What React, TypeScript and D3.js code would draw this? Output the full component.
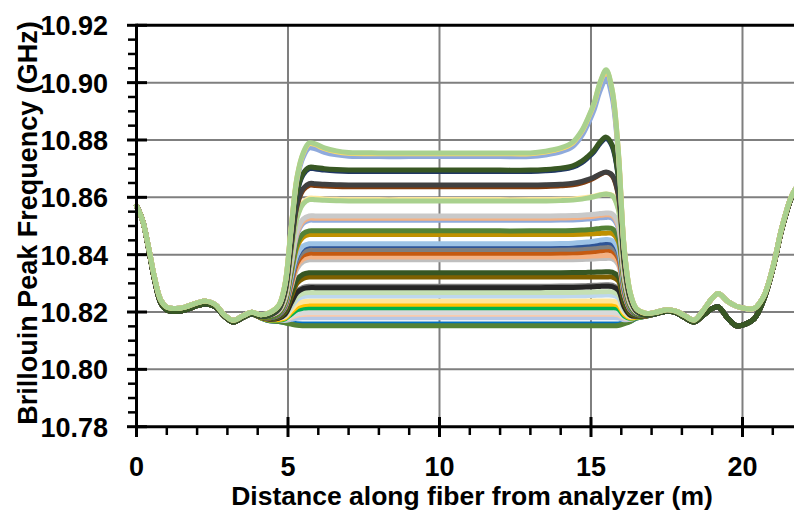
import React from "react";
import * as d3 from "d3";

// Distance along fiber (m) at which profiles were read
const distances = [0, 0.2, 0.4, 0.6, 0.8, 1.0, 1.3, 1.6, 2.0, 2.3, 2.6, 2.9, 3.2, 3.5, 3.8, 4.1, 4.4, 4.7, 4.9, 5.1, 5.3, 5.5, 5.7, 5.9, 6.2, 6.6, 7.0, 8.0, 9.0, 10.0, 11.0, 12.0, 13.0, 13.5, 14.0, 14.4, 14.7, 14.9, 15.1, 15.3, 15.5, 15.7, 15.9, 16.1, 16.3, 16.5, 16.8, 17.1, 17.5, 17.8, 18.1, 18.4, 18.7, 19.0, 19.2, 19.5, 19.8, 20.1, 20.4, 20.7, 21.0, 21.3, 21.6, 21.75];

// Reference fiber (outside test section) – darker bundle
const baselineDark = [10.857, 10.852, 10.842, 10.831, 10.8232, 10.8207, 10.8202, 10.8207, 10.8222, 10.8228, 10.8218, 10.8185, 10.8165, 10.818, 10.8193, 10.818, 10.817, 10.8168, 10.8165, 10.8165, 10.8165, 10.8165, 10.8165, 10.8165, 10.8165, 10.8165, 10.8165, 10.8165, 10.8165, 10.8165, 10.8165, 10.8165, 10.8165, 10.8165, 10.8165, 10.8165, 10.8165, 10.8165, 10.8165, 10.8165, 10.8165, 10.8165, 10.8165, 10.8165, 10.817, 10.818, 10.8185, 10.8193, 10.8203, 10.8198, 10.818, 10.8165, 10.8188, 10.8212, 10.8218, 10.818, 10.8152, 10.8158, 10.8178, 10.8243, 10.835, 10.849, 10.8595, 10.8625];
// Reference fiber – lighter bundle
const baselineLight = [10.857, 10.852, 10.8425, 10.8318, 10.8242, 10.8217, 10.8212, 10.8217, 10.8232, 10.8238, 10.8226, 10.819, 10.8171, 10.8186, 10.8199, 10.8185, 10.8175, 10.8172, 10.8168, 10.8168, 10.8168, 10.8168, 10.8168, 10.8168, 10.8168, 10.8168, 10.8168, 10.8168, 10.8168, 10.8168, 10.8168, 10.8168, 10.8168, 10.8168, 10.8168, 10.8168, 10.8168, 10.8168, 10.8168, 10.8168, 10.8168, 10.8168, 10.8168, 10.8168, 10.8173, 10.8183, 10.819, 10.8198, 10.8208, 10.8203, 10.8187, 10.8172, 10.8205, 10.8248, 10.8265, 10.8238, 10.822, 10.8212, 10.8213, 10.8255, 10.8355, 10.8495, 10.86, 10.863];
// Fraction of the section's plateau shift reached at each distance
const sectionWeight = [0, 0, 0, 0, 0, 0, 0, 0, 0, 0, 0, 0, 0, 0, 0, 0.01, 0.04, 0.09, 0.22, 0.55, 0.86, 0.97, 1, 1, 1, 1, 1, 1, 1, 1, 1, 1, 1, 1, 1, 1, 1, 1, 1, 1, 1, 1, 0.92, 0.43, 0.16, 0.05, 0.01, 0, 0, 0, 0, 0, 0, 0, 0, 0, 0, 0, 0, 0, 0, 0, 0, 0];
// Relative shape of the peak near 15.5 m
const peakShape = [0, 0, 0, 0, 0, 0, 0, 0, 0, 0, 0, 0, 0, 0, 0, 0, 0, 0, 0, 0, 0, 0, 0, 0, 0, 0, 0, 0, 0, 0, 0, 0, 0, 0.02, 0.06, 0.13, 0.27, 0.42, 0.6, 0.85, 1, 0.76, 0.2, 0, 0, 0, 0, 0, 0, 0, 0, 0, 0, 0, 0, 0, 0, 0, 0, 0, 0, 0, 0, 0];
// Relative shape of the overshoot at the section entrance
const overshootShape = [0, 0, 0, 0, 0, 0, 0, 0, 0, 0, 0, 0, 0, 0, 0, 0, 0, 0, 0, 0, 0, 0.5, 1, 0.9, 0.5, 0.2, 0.05, 0, 0, 0, 0, 0, 0, 0, 0, 0, 0, 0, 0, 0, 0, 0, 0, 0, 0, 0, 0, 0, 0, 0, 0, 0, 0, 0, 0, 0, 0, 0, 0, 0, 0, 0, 0, 0];

// Per-series values (GHz)
const seriesLevels = [10.8158, 10.8152, 10.818, 10.8192, 10.8198, 10.8215, 10.8227, 10.8238, 10.8256, 10.8268, 10.829, 10.8285, 10.8322, 10.8337, 10.8382, 10.8392, 10.8405, 10.8418, 10.8432, 10.8438, 10.847, 10.8483, 10.852, 10.8527, 10.8535, 10.8592, 10.8587, 10.8637, 10.8643, 10.869, 10.8695, 10.8748, 10.8742, 10.8752, 10.8755];
const seriesPeaks = [0, 0, 0, 0, 0, 0, 0, 0, 0.0003, 0.0003, 0.0005, 0.0005, 0, 0.0003, 0.0005, 0.0005, 0.001, 0.001, 0.001, 0.0015, 0.0005, 0.001, 0.001, 0.0012, 0.001, 0.002, 0.0025, 0.005, 0.0045, 0.0115, 0.0115, 0.028, 0.027, 0.029, 0.029];
const seriesOvershoot = [0, 0, 0, 0, 0, 0, 0, 0, 0, 0, 0, 0, 0, 0, 0, 0, 0, 0, 0, 0, 0, 0, 0, 0, 0, 0.0005, 0.0005, 0.0005, 0.0005, 0.001, 0.001, 0.0035, 0.003, 0.0035, 0.0035];
const seriesBundle = ["D", "D", "L", "L", "L", "D", "D", "L", "L", "L", "D", "D", "D", "D", "L", "L", "D", "D", "D", "L", "D", "D", "L", "L", "L", "L", "L", "D", "D", "D", "D", "L", "L", "L", "L"];
const seriesColors = ["#0070c0", "#548235", "#b4c7e7", "#f8cbad", "#d9d9d9", "#00b050", "#ffc000", "#ffe699", "#bdd7ee", "#c5e0b4", "#7f7f7f", "#262626", "#7f6000", "#375623", "#bfbfbf", "#f4b183", "#c55a11", "#7f7f7f", "#2f5597", "#9dc3e6", "#bf9000", "#548235", "#8faadc", "#f4b183", "#c9c9c9", "#ffe699", "#a9d18e", "#843c0c", "#404040", "#203864", "#385723", "#f4b183", "#8faadc", "#ffd966", "#a9d18e"];

const xTickValues = [0, 5, 10, 15, 20];
const yTickValues = [10.78, 10.8, 10.82, 10.84, 10.86, 10.88, 10.9, 10.92];
const xTitle = "Distance along fiber from analyzer (m)";
const yTitle = "Brillouin Peak Frequency (GHz)";

const W = 794;
const H = 510;
const FONT = "'Liberation Sans', Arial, sans-serif";

export default function App() {
  const x = d3.scaleLinear().domain([0, 21.7]).range([136.5, 794]);
  const y = d3.scaleLinear().domain([10.78, 10.92]).range([426.7, 25.3]);

  const series = seriesLevels.map((level, i) => {
    const base = seriesBundle[i] === "L" ? baselineLight : baselineDark;
    return distances.map((d, k) => ({
      d,
      v:
        base[k] +
        sectionWeight[k] * (level - base[k]) +
        peakShape[k] * seriesPeaks[i] +
        overshootShape[k] * seriesOvershoot[i],
    }));
  });

  const line = d3
    .line<{ d: number; v: number }>()
    .x((p) => x(p.d))
    .y((p) => y(p.v))
    .curve(d3.curveCatmullRom.alpha(0.5));

  const [x0, x1] = x.range();
  const [yb, yt] = y.range();
  const xMinor = d3.range(0, 22, 1).filter((v) => v % 5 !== 0);
  const yMinor = d3.range(0, 29).map((k) => 10.78 + k * 0.005).filter((_, k) => k % 4 !== 0);

  return (
    <svg width={W} height={H} style={{ position: "absolute", left: 0, top: 0, background: "#fff" }}>
      {/* gridlines */}
      {yTickValues.slice(1, -1).map((v) => (
        <line key={"gy" + v} x1={x0} x2={x1} y1={y(v)} y2={y(v)} stroke="#7f7f7f" strokeWidth={2} />
      ))}
      {xTickValues.slice(1).map((v) => (
        <line key={"gx" + v} x1={x(v)} x2={x(v)} y1={yt} y2={yb} stroke="#7f7f7f" strokeWidth={2} />
      ))}
      {/* series */}
      <g fill="none" strokeWidth={5} strokeLinejoin="round" strokeLinecap="round">
        {series.map((s, i) => (
          <path key={i} d={line(s) || ""} stroke={seriesColors[i]} />
        ))}
      </g>
      {/* frame & axes */}
      <line x1={x0} x2={x1} y1={yt} y2={yt} stroke="#000" strokeWidth={3} />
      <line x1={x0} x2={x0} y1={yt - 1.5} y2={yb + 1.5} stroke="#000" strokeWidth={3} />
      <line x1={x0 - 1.5} x2={x1} y1={yb} y2={yb} stroke="#000" strokeWidth={3} />
      {yTickValues.map((v) => (
        <line key={"ty" + v} x1={127} x2={147} y1={y(v)} y2={y(v)} stroke="#000" strokeWidth={3} />
      ))}
      {yMinor.map((v) => (
        <line key={"my" + v} x1={128} x2={x0} y1={y(v)} y2={y(v)} stroke="#000" strokeWidth={2.5} />
      ))}
      {xTickValues.map((v) => (
        <line key={"tx" + v} x1={x(v)} x2={x(v)} y1={417} y2={437} stroke="#000" strokeWidth={3} />
      ))}
      {xMinor.map((v) => (
        <line key={"mx" + v} x1={x(v)} x2={x(v)} y1={yb} y2={435} stroke="#000" strokeWidth={2.5} />
      ))}
      {/* tick labels */}
      <g fontFamily={FONT} fontWeight="bold" fontSize={27} fill="#000">
        {yTickValues.map((v) => (
          <text key={"ly" + v} x={108} y={y(v) + 10} textAnchor="end">
            {d3.format(".2f")(v)}
          </text>
        ))}
        {xTickValues.map((v) => (
          <text key={"lx" + v} x={x(v)} y={476} textAnchor="middle">
            {v}
          </text>
        ))}
        <text x={472} y={505} textAnchor="middle" fontSize={26.5}>
          {xTitle}
        </text>
        <text transform="translate(37,223) rotate(-90)" textAnchor="middle">
          {yTitle}
        </text>
      </g>
    </svg>
  );
}
